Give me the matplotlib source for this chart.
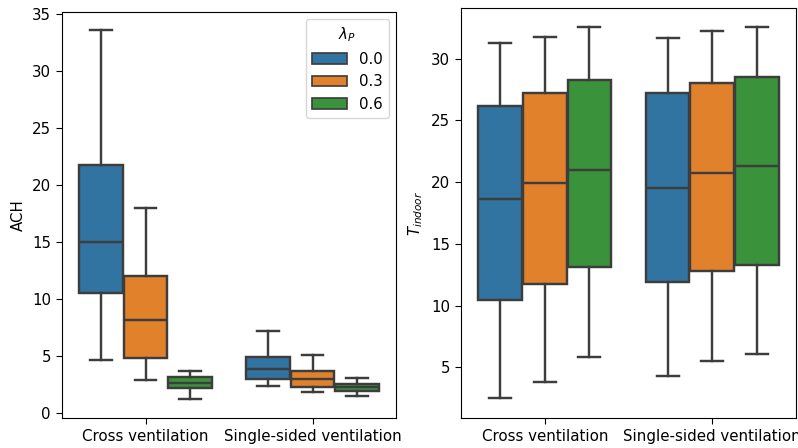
import matplotlib
matplotlib.use("Agg")
import matplotlib.pyplot as plt
from matplotlib.patches import Patch

# categories / hue levels
categories = ["Cross ventilation", "Single-sided ventilation"]
lambda_p = ["0.0", "0.3", "0.6"]
colors = ["#3274a1", "#e1812c", "#3a923a"]
gray = "#3d3d3d"

# box stats: [whislo, q1, med, q3, whishi]
ach_cross = [[4.7, 10.55, 15.07, 21.8, 33.6],
             [2.9, 4.9, 8.2, 12.07, 18.0],
             [1.3, 2.2, 2.7, 3.2, 3.75]]
ach_single = [[2.4, 3.05, 3.9, 4.95, 7.2],
              [1.85, 2.35, 3.0, 3.75, 5.15],
              [1.55, 1.95, 2.3, 2.6, 3.15]]
t_cross = [[2.5, 10.48, 18.63, 26.14, 31.24],
           [3.84, 11.75, 19.96, 27.19, 31.73],
           [5.81, 13.15, 21.0, 28.27, 32.6]]
t_single = [[4.27, 11.88, 19.5, 27.22, 31.65],
            [5.49, 12.78, 20.74, 28.03, 32.2],
            [6.08, 13.26, 21.28, 28.49, 32.54]]

FS = 10.8
LW = 1.75
plt.rcParams["font.size"] = FS
plt.rcParams["xtick.major.size"] = 4.5
plt.rcParams["ytick.major.size"] = 4.5


def draw_boxes(ax, groups):
    n = len(lambda_p)
    w = 0.8 / n
    for ci, grp in enumerate(groups):
        for hi, s in enumerate(grp):
            pos = ci - 0.4 + w * (hi + 0.5)
            stats = [dict(whislo=s[0], q1=s[1], med=s[2], q3=s[3], whishi=s[4], fliers=[])]
            ax.bxp(stats, positions=[pos], widths=w * 0.98, patch_artist=True,
                   showfliers=False, manage_ticks=False,
                   boxprops=dict(facecolor=colors[hi], edgecolor=gray, linewidth=LW),
                   medianprops=dict(color=gray, linewidth=LW),
                   whiskerprops=dict(color=gray, linewidth=LW),
                   capprops=dict(color=gray, linewidth=LW))
    ax.set_xlim(-0.5, len(groups) - 0.5)
    ax.set_xticks(range(len(categories)))
    ax.set_xticklabels(categories)


fig = plt.figure(figsize=(7.98, 4.48), dpi=100)
ax1 = fig.add_axes([62 / 798, 1 - 418 / 448, 334 / 798, 406 / 448])
ax2 = fig.add_axes([461 / 798, 1 - 418 / 448, 335 / 798, 410 / 448])

draw_boxes(ax1, [ach_cross, ach_single])
ax1.set_ylim(-0.4, 35.2)
ax1.set_ylabel("ACH")

draw_boxes(ax2, [t_cross, t_single])
ax2.set_ylim(0.9, 34.1)
ax2.set_yticks([5, 10, 15, 20, 25, 30])
ax2.set_ylabel("$T_{indoor}$")

handles = [Patch(facecolor=c, edgecolor=gray, linewidth=LW * 0.7) for c in colors]
ax1.legend(handles, lambda_p, title="$\\lambda_P$", loc="upper right",
           fontsize=FS, title_fontsize=FS, handlelength=2.3)

fig.savefig("out.png", dpi=100)
